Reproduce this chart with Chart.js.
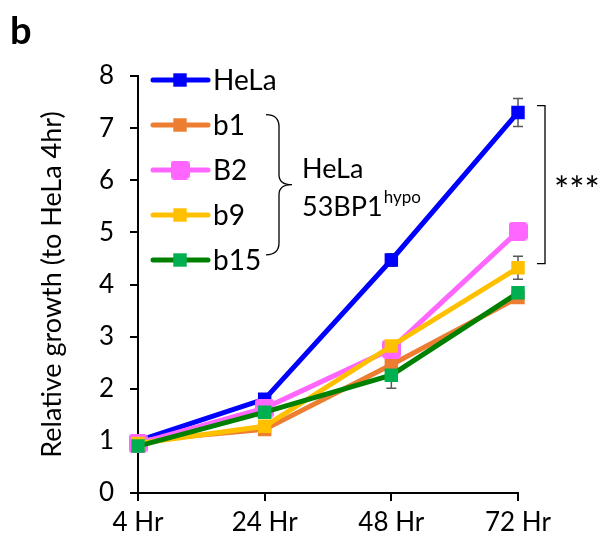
<!DOCTYPE html>
<html lang="en-US">
<head>
  <meta charset="utf-8">
  <title>Relative growth</title>
  <script src="https://cdn.jsdelivr.net/npm/chart.js@4/dist/chart.umd.min.js"></script>
  <style>
    html, body { margin: 0; padding: 0; background: #fff; }
    #holder { width: 606px; height: 552px; }
  </style>
</head>
<body>
<div id="holder"><canvas id="chart"></canvas></div>
<script>
  var categories = ['4 Hr', '24 Hr', '48 Hr', '72 Hr'];
  var seriesNames = ['HeLa', 'b1', 'B2', 'b9', 'b15'];

  var hela = [1.0, 1.80, 4.47, 7.30];
  var b1   = [1.0, 1.22, 2.46, 3.75];
  var b2   = [0.95, 1.63, 2.76, 5.02];
  var b9   = [0.95, 1.28, 2.82, 4.32];
  var b15  = [0.90, 1.55, 2.26, 3.84];

  var helaErr = [0, 0.06, 0.12, 0.27];
  var b1Err   = [0, 0.08, 0.10, 0.10];
  var b2Err   = [0, 0.05, 0.10, 0.10];
  var b9Err   = [0, 0.05, 0.10, 0.22];
  var b15Err  = [0, 0.05, 0.25, 0.10];

  var FONT = 'Lato, "Open Sans", sans-serif';

  // rounded square marker for B2
  function roundSquare(size, r, color) {
    var c = document.createElement('canvas');
    c.width = size; c.height = size;
    var g = c.getContext('2d');
    g.fillStyle = color;
    g.beginPath();
    g.roundRect(0, 0, size, size, r);
    g.fill();
    return c;
  }

  function series(label, data, err, line, fill, style, radius, order) {
    return {
      label: label,
      data: data,
      err: err,
      borderColor: line,
      backgroundColor: fill,
      borderWidth: 5,
      pointStyle: style,
      pointRadius: radius,
      pointHoverRadius: radius,
      pointBackgroundColor: fill,
      pointBorderWidth: 0,
      tension: 0,
      order: order
    };
  }

  // error bars, drawn under the lines
  var errorBars = {
    id: 'errorBars',
    beforeDatasetsDraw: function (chart) {
      var ctx = chart.ctx;
      var y = chart.scales.y;
      ctx.save();
      ctx.strokeStyle = '#595959';
      ctx.lineWidth = 1.5;
      chart.data.datasets.forEach(function (ds, i) {
        var meta = chart.getDatasetMeta(i);
        meta.data.forEach(function (pt, j) {
          var e = ds.err[j];
          if (!e) return;
          var top = y.getPixelForValue(ds.data[j] + e);
          var bot = y.getPixelForValue(ds.data[j] - e);
          ctx.beginPath();
          ctx.moveTo(pt.x, top); ctx.lineTo(pt.x, bot);
          ctx.moveTo(pt.x - 5, top); ctx.lineTo(pt.x + 5, top);
          ctx.moveTo(pt.x - 5, bot); ctx.lineTo(pt.x + 5, bot);
          ctx.stroke();
        });
      });
      ctx.restore();
    }
  };

  // legend, braces and labels
  var extras = {
    id: 'extras',
    afterDraw: function (chart) {
      var ctx = chart.ctx;
      var area = chart.chartArea;
      var y = chart.scales.y;
      ctx.save();

      // panel letter
      ctx.fillStyle = '#000';
      ctx.font = 'bold 38px ' + FONT;
      ctx.textBaseline = 'alphabetic';
      ctx.textAlign = 'left';
      ctx.fillText('b', 10, 44);

      // legend
      var lx = area.left + 15;
      var ly = area.top + 4;
      chart.data.datasets.forEach(function (ds, i) {
        var cy = ly + i * 45;
        ctx.strokeStyle = ds.borderColor;
        ctx.lineWidth = 5;
        ctx.lineCap = 'round';
        ctx.beginPath();
        ctx.moveTo(lx, cy); ctx.lineTo(lx + 55, cy);
        ctx.stroke();
        ctx.fillStyle = ds.pointBackgroundColor;
        Chart.helpers.drawPoint(ctx, {
          pointStyle: ds.pointStyle, radius: ds.pointRadius, rotation: 0, borderWidth: 0
        }, lx + 27, cy);
        ctx.fillStyle = '#000';
        ctx.font = '28px ' + FONT;
        ctx.textBaseline = 'middle';
        ctx.fillText(ds.label, lx + 60, cy + 1);
      });

      // curly brace for the hypo lines
      ctx.strokeStyle = '#000';
      ctx.lineWidth = 1.3;
      ctx.lineCap = 'butt';
      var bx = 266, bt = y.getPixelForValue(7.26), bb = y.getPixelForValue(4.57);
      var bm = (bt + bb) / 2, bw = 13;
      ctx.beginPath();
      ctx.moveTo(bx, bt);
      ctx.quadraticCurveTo(bx + bw, bt, bx + bw, bt + 12);
      ctx.lineTo(bx + bw, bm - 10);
      ctx.quadraticCurveTo(bx + bw, bm, bx + 2 * bw, bm);
      ctx.quadraticCurveTo(bx + bw, bm, bx + bw, bm + 10);
      ctx.lineTo(bx + bw, bb - 12);
      ctx.quadraticCurveTo(bx + bw, bb, bx, bb);
      ctx.stroke();

      ctx.fillStyle = '#000';
      ctx.font = '27px ' + FONT;
      ctx.textBaseline = 'alphabetic';
      ctx.fillText('HeLa', 302, 178);
      ctx.fillText('53BP1', 302, 216);
      var w = ctx.measureText('53BP1').width;
      ctx.font = '17px ' + FONT;
      ctx.fillText('hypo', 302 + w + 1, 203);

      // significance bracket
      var rt = y.getPixelForValue(7.43), rb = y.getPixelForValue(4.4);
      ctx.beginPath();
      ctx.moveTo(537, rt); ctx.lineTo(545, rt); ctx.lineTo(545, rb); ctx.lineTo(537, rb);
      ctx.stroke();
      ctx.font = '36px ' + FONT;
      ctx.fillText('***', 554, (rt + rb) / 2 + 18);

      ctx.restore();
    }
  };

  var config = {
    type: 'line',
    data: {
      labels: categories,
      datasets: [
        series(seriesNames[0], hela, helaErr, '#0000ff', '#0000ff', 'rect', 9.5, 5),
        series(seriesNames[1], b1, b1Err, '#ed7d31', '#ed7d31', 'rect', 9.5, 4),
        series(seriesNames[2], b2, b2Err, '#ff66ff', '#ff66ff', roundSquare(19, 4, '#ff66ff'), 10, 3),
        series(seriesNames[3], b9, b9Err, '#ffc000', '#ffc000', 'rect', 9.5, 2),
        series(seriesNames[4], b15, b15Err, '#008000', '#00b050', 'rect', 9.5, 1)
      ]
    },
    options: {
      responsive: true,
      maintainAspectRatio: false,
      animation: false,
      layout: { padding: { left: 0, right: 88, top: 76, bottom: 0 } },
      plugins: {
        legend: { display: false },
        tooltip: { enabled: false }
      },
      scales: {
        x: {
          offset: false,
          grid: { drawOnChartArea: false, drawTicks: true, tickLength: 8, color: '#000', lineWidth: 2 },
          border: { color: '#000', width: 2 },
          ticks: { color: '#000', font: { family: FONT, size: 26 }, padding: 6, maxRotation: 0 },
          afterFit: function (s) { s.height = 59; }
        },
        y: {
          min: 0,
          max: 8,
          grid: { drawOnChartArea: false, drawTicks: true, tickLength: 8, color: '#000', lineWidth: 2 },
          border: { color: '#000', width: 2 },
          ticks: { stepSize: 1, color: '#000', font: { family: FONT, size: 26 }, padding: 16 },
          title: {
            display: true,
            text: 'Relative growth (to HeLa 4hr)',
            color: '#000',
            font: { family: FONT, size: 27 },
            padding: { top: 36, bottom: 14 }
          },
          afterFit: function (s) { s.width = 138; }
        }
      }
    },
    plugins: [errorBars, extras]
  };

  new Chart(document.getElementById('chart').getContext('2d'), config);
</script>
</body>
</html>
